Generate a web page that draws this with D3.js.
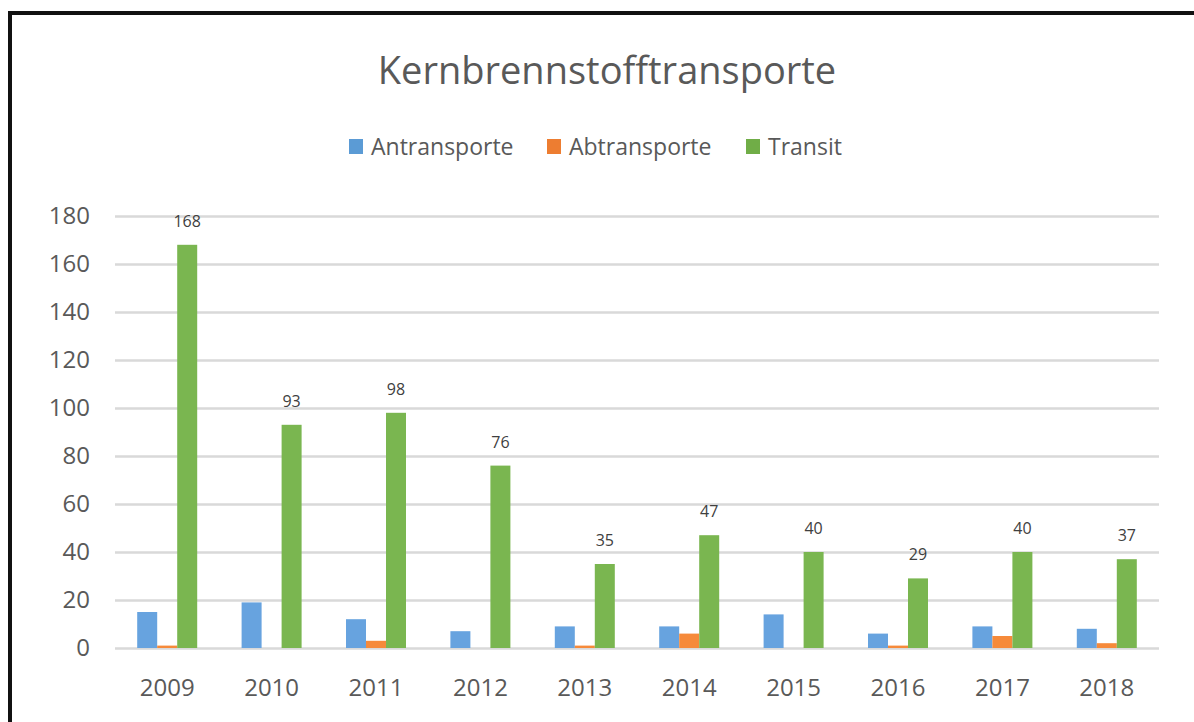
<!DOCTYPE html>
<html>
<head>
<meta charset="utf-8">
<script src="https://cdn.jsdelivr.net/npm/d3@7"></script>
<style>
  body { margin: 0; background: #fff; }
  text { font-family: "Open Sans", sans-serif; }
</style>
</head>
<body>
<div id="chart"></div>
<script>
// Data
const years = ['2009', '2010', '2011', '2012', '2013', '2014', '2015', '2016', '2017', '2018'];
const seriesNames = ['Antransporte', 'Abtransporte', 'Transit'];
const antransporte = [15, 19, 12, 7, 9, 9, 14, 6, 9, 8];
const abtransporte = [1, 0, 3, 0, 1, 6, 0, 1, 5, 2];
const transit = [168, 93, 98, 76, 35, 47, 40, 29, 40, 37];
const yTicks = [0, 20, 40, 60, 80, 100, 120, 140, 160, 180];

const barColors = ['#67a3df', '#f68a3a', '#7ab650'];
const legendColors = ['#5b9bd5', '#ed7d31', '#70ad47'];

const rows = years.map((y, i) => ({
    year: y,
    values: [antransporte[i], abtransporte[i], transit[i]]
}));

const svgWidth = 1194;
const svgHeight = 722;
const margin = { top: 216, right: 35, bottom: 74, left: 115 };

let svg = d3.select('#chart')
    .append('svg')
    .attr('width', svgWidth)
    .attr('height', svgHeight);

// black frame (runs off the right and bottom edge)
svg.append('rect')
    .attr('x', 10)
    .attr('y', 13)
    .attr('width', 1400)
    .attr('height', 900)
    .attr('fill', 'none')
    .attr('stroke', '#111')
    .attr('stroke-width', 4);

// Scales
let xScale = d3.scaleBand()
    .domain(years)
    .range([margin.left, svgWidth - margin.right]);

let xInner = d3.scaleBand()
    .domain(seriesNames)
    .range([0, xScale.bandwidth()])
    .paddingOuter(1.11);

let yScale = d3.scaleLinear()
    .domain([0, 180])
    .range([svgHeight - margin.bottom, margin.top]);

// Gridlines + y labels
let yAxis = d3.axisLeft(yScale)
    .tickValues(yTicks)
    .tickSize(-(svgWidth - margin.left - margin.right))
    .tickPadding(25);

let yG = svg.append('g')
    .attr('transform', `translate(${margin.left}, 0)`)
    .call(yAxis);
yG.select('.domain').remove();
yG.selectAll('.tick line')
    .attr('stroke', '#d9d9d9')
    .attr('stroke-width', 2.5);
yG.selectAll('.tick text')
    .attr('fill', '#595959')
    .style('font-size', '24px');

// x labels
let xAxis = d3.axisBottom(xScale).tickSize(0).tickPadding(31);
let xG = svg.append('g')
    .attr('transform', `translate(0, ${yScale(0)})`)
    .call(xAxis);
xG.select('.domain').remove();
xG.selectAll('.tick text')
    .attr('fill', '#595959')
    .style('font-size', '24px');

// Bars
let groups = svg.selectAll('.group')
    .data(rows)
    .enter()
    .append('g')
    .attr('class', 'group')
    .attr('transform', d => `translate(${xScale(d.year)}, 0)`);

groups.selectAll('rect')
    .data(d => d.values.map((v, i) => ({ key: seriesNames[i], value: v, idx: i })))
    .enter()
    .append('rect')
    .attr('x', d => xInner(d.key))
    .attr('y', d => yScale(d.value))
    .attr('width', xInner.bandwidth())
    .attr('height', d => yScale(0) - yScale(d.value))
    .attr('fill', d => barColors[d.idx]);

// Data labels over Transit
groups.append('text')
    .attr('x', xInner('Transit') + xInner.bandwidth() / 2)
    .attr('y', d => yScale(d.values[2]) - 18)
    .attr('text-anchor', 'middle')
    .attr('fill', '#404040')
    .style('font-size', '16px')
    .text(d => d.values[2]);

// Title
svg.append('text')
    .attr('x', 607)
    .attr('y', 84)
    .attr('text-anchor', 'middle')
    .attr('fill', '#595959')
    .style('font-size', '38px')
    .text('Kernbrennstofftransporte');

// Legend
const legendX = [349, 547, 746];
let legend = svg.selectAll('.legend')
    .data(seriesNames)
    .enter()
    .append('g')
    .attr('class', 'legend')
    .attr('transform', (d, i) => `translate(${legendX[i]}, 139)`);

legend.append('rect')
    .attr('width', 14)
    .attr('height', 15)
    .attr('fill', (d, i) => legendColors[i]);

legend.append('text')
    .attr('x', 22)
    .attr('y', 16)
    .attr('fill', '#595959')
    .style('font-size', '23px')
    .text(d => d);
</script>
</body>
</html>
